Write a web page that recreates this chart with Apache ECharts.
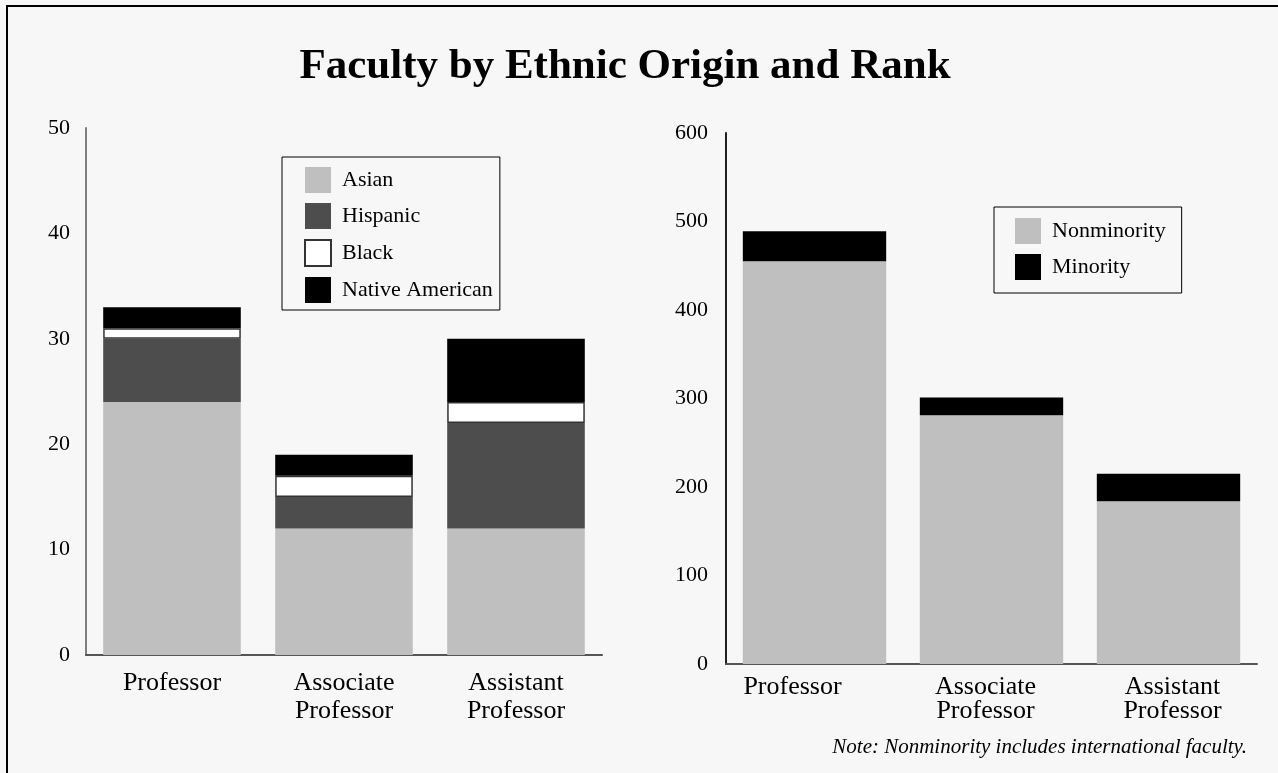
<!DOCTYPE html>
<html>
<head>
<meta charset="utf-8">
<script src="https://cdn.jsdelivr.net/npm/echarts@6/dist/echarts.min.js"></script>
<style>
  html, body { margin: 0; padding: 0; background: #f7f7f7; }
  #chart { width: 1278px; height: 773px; }
</style>
</head>
<body>
<div id="chart"></div>
<script>
  // data
  var ranks = ['Professor', 'Associate\nProfessor', 'Assistant\nProfessor'];

  var asian = [24, 12, 12];
  var hispanic = [6, 3, 10];
  var black = [1, 2, 2];
  var nativeAmerican = [2, 2, 6];

  var nonminority = [455, 281, 184];
  var minority = [34, 20, 31];

  var leftTicks = [0, 10, 20, 30, 40, 50];
  var rightTicks = [0, 100, 200, 300, 400, 500, 600];

  var serif = '"Liberation Serif", "DejaVu Serif", serif';

  var chart = echarts.init(document.getElementById('chart'));

  function yAxis(idx, ticks, lineColor, margin) {
    return {
      type: 'value',
      gridIndex: idx,
      min: ticks[0],
      max: ticks[ticks.length - 1],
      interval: ticks[1] - ticks[0],
      axisLine: { show: true, lineStyle: { color: lineColor, width: 2 } },
      axisTick: { show: false },
      splitLine: { show: false },
      axisLabel: { color: '#000', fontFamily: serif, fontSize: 22, margin: margin }
    };
  }

  function xAxis(idx, lineHeight, margin, shifts) {
    return {
      type: 'category',
      gridIndex: idx,
      data: ranks.map(function (r, i) {
        return { value: r, textStyle: { padding: shifts[i] } };
      }),
      axisLine: { lineStyle: { color: '#555', width: 2 } },
      axisTick: { show: false },
      axisLabel: {
        color: '#000', fontFamily: serif, fontSize: 26,
        lineHeight: lineHeight, margin: margin, interval: 0
      }
    };
  }

  function legend(names, box, pad) {
    return {
      data: names,
      orient: 'vertical',
      left: box[0],
      top: box[1],
      padding: pad,
      icon: 'rect',
      itemWidth: 26,
      itemHeight: 26,
      itemGap: 10,
      borderColor: '#000',
      borderWidth: 1,
      backgroundColor: '#f7f7f7',
      textStyle: { color: '#000', fontFamily: serif, fontSize: 22, lineHeight: 26, padding: [0, 0, 0, 6] }
    };
  }

  function bars(name, data, color, idx, stack, extra) {
    return {
      name: name,
      type: 'bar',
      stack: stack,
      xAxisIndex: idx,
      yAxisIndex: idx,
      barCategoryGap: idx === 0 ? '20%' : '19%',
      data: data,
      itemStyle: Object.assign({ color: color }, extra || {})
    };
  }

  var option = {
    backgroundColor: '#f7f7f7',
    animation: false,
    title: {
      text: 'Faculty by Ethnic Origin and Rank',
      left: 625,
      top: 45,
      textAlign: 'center',
      padding: 0,
      textStyle: { color: '#000', fontFamily: serif, fontSize: 43, fontWeight: 'bold' }
    },
    legend: [
      legend(['Asian', 'Hispanic', 'Black', 'Native American'], [282, 157], [10, 7, 7, 22]),
      legend(['Nonminority', 'Minority'], [994, 207], [11, 16, 13, 21])
    ],
    grid: [
      { left: 86, top: 128, width: 516, height: 527 },
      { left: 726, top: 133, width: 531, height: 531 }
    ],
    xAxis: [
      xAxis(0, 28, 14, [0, 0, 0]),
      xAxis(1, 24, 11, [[0, 44, 0, 0], [0, 12, 0, 0], [0, 0, 0, 8]])
    ],
    yAxis: [
      yAxis(0, leftTicks, '#808080', 16),
      yAxis(1, rightTicks, '#222', 18)
    ],
    series: [
      bars('Asian', asian, '#bfbfbf', 0, 'eth'),
      bars('Hispanic', hispanic, '#4d4d4d', 0, 'eth'),
      bars('Black', black, '#ffffff', 0, 'eth', { borderColor: '#333', borderWidth: 1.5 }),
      bars('Native American', nativeAmerican, '#000000', 0, 'eth'),
      bars('Nonminority', nonminority, '#bfbfbf', 1, 'min'),
      bars('Minority', minority, '#000000', 1, 'min')
    ],
    graphic: [
      {
        type: 'rect',
        shape: { x: 7, y: 6, width: 1400, height: 900 },
        style: { fill: 'none', stroke: '#000', lineWidth: 2 },
        silent: true
      },
      {
        type: 'text',
        x: 1247,
        y: 747,
        style: {
          text: 'Note: Nonminority includes international faculty.',
          fill: '#000',
          font: 'italic 21px ' + serif,
          textAlign: 'right',
          textVerticalAlign: 'middle'
        }
      }
    ]
  };

  chart.setOption(option);
</script>
</body>
</html>
